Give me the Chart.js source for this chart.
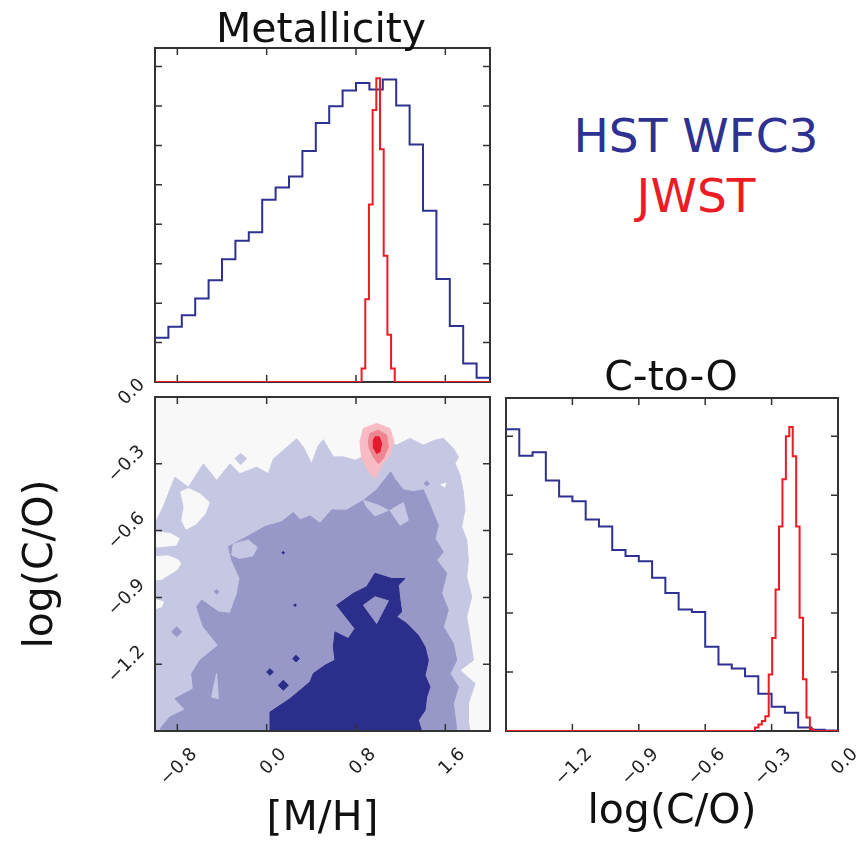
<!DOCTYPE html>
<html>
<head>
<meta charset="utf-8">
<script src="https://cdn.jsdelivr.net/npm/chart.js@4.4.1/dist/chart.umd.min.js"></script>
<style>
  body { margin: 0; width: 867px; height: 849px; position: relative; overflow: hidden; background: #fff; font-family: "DejaVu Sans", sans-serif; }
  canvas { position: absolute; }
  .lbl { position: absolute; white-space: nowrap; line-height: 1; transform: translateX(-50%); }
</style>
</head>
<body>
<canvas id="mhChart" width="500" height="390" style="left:0px;top:0px"></canvas>
<canvas id="jointChart" width="500" height="479" style="left:0px;top:370px"></canvas>
<canvas id="coChart" width="367" height="479" style="left:500px;top:370px"></canvas>
<div class="lbl" style="left:321px;top:8px;font-size:41px;color:#111">Metallicity</div>
<div class="lbl" style="left:671px;top:356px;font-size:41px;color:#111">C-to-O</div>
<div class="lbl" style="left:696px;top:112px;font-size:47px;color:#2e3192">HST WFC3</div>
<div class="lbl" style="left:696px;top:172px;font-size:47px;color:#ec1c24">JWST</div>
<script>
// ---- data ----
// marginal histograms, heights in units of the (unlabelled) y tick spacing
const mhStart = -1.0, mhStep = 0.12;
const mhHst = [1.12, 1.40, 1.69, 2.12, 2.58, 3.11, 3.58, 3.80, 4.62, 4.93, 5.21, 5.86, 6.57,
               6.99, 7.39, 7.58, 7.42, 7.67, 7.01, 6.02, 4.34, 2.61, 1.42, 0.47, 0.11];
const mhJwstStart = 0.85, mhJwstStep = 0.033;
const mhJwst = [0.34, 2.1, 4.5, 6.9, 7.7, 5.9, 3.2, 1.2, 0.34];

const coStart = -1.5, coStep = 0.06;
const coHst = [5.12, 4.67, 4.73, 4.25, 3.98, 3.90, 3.59, 3.47, 3.07, 2.97, 2.88, 2.60, 2.34,
               2.06, 2.02, 1.43, 1.13, 1.06, 0.93, 0.63, 0.41, 0.31, 0.06, 0.02, 0.01];
const coJwstStart = -0.375, coJwstStep = 0.0155;
const coJwst = [0.06, 0.11, 0.17, 0.25, 0.96, 1.58, 2.40, 3.47, 4.27, 5.00, 5.16, 4.66, 3.47,
                1.92, 0.88, 0.23, 0.03];

// tick values
const mhTicks = [-0.8, 0.0, 0.8, 1.6];
const coTicks = [0.0, -0.3, -0.6, -0.9, -1.2];
const mhCountTicks = [1, 2, 3, 4, 5, 6, 7, 8];
const coCountTicks = [1, 2, 3, 4, 5];

// joint posterior contours ([M/H], log(C/O)) – HST WFC3
const hstLevel1 = [[-1.000,-1.500],[-1.000,-0.567],[-0.925,-0.492],[-0.866,-0.417],[-0.821,-0.360],
  [-0.701,-0.405],[-0.567,-0.300],[-0.448,-0.375],[-0.328,-0.300],[-0.239,-0.345],[-0.090,-0.315],
  [0.015,-0.345],[0.060,-0.278],[0.164,-0.233],[0.269,-0.188],[0.328,-0.225],[0.403,-0.300],
  [0.463,-0.218],[0.507,-0.192],[0.597,-0.269],[0.687,-0.269],[0.791,-0.284],[0.866,-0.267],
  [0.985,-0.192],[1.164,-0.216],[1.284,-0.186],[1.403,-0.216],[1.507,-0.194],[1.582,-0.186],
  [1.672,-0.231],[1.716,-0.269],[1.687,-0.299],[1.731,-0.351],[1.761,-0.426],[1.776,-0.507],
  [1.746,-0.582],[1.791,-0.642],[1.806,-0.732],[1.791,-0.807],[1.836,-0.897],[1.791,-0.987],
  [1.821,-1.077],[1.851,-1.182],[1.731,-1.227],[1.866,-1.287],[1.806,-1.377],[1.806,-1.452],
  [1.821,-1.500]];
const hstLevel1Islands = [
  [[-0.233,-0.254],[-0.179,-0.276],[-0.233,-0.303],[-0.284,-0.276]]
];
const hstGaps = [
  [[-0.770,-0.426],[-0.701,-0.411],[-0.597,-0.435],[-0.513,-0.474],[-0.552,-0.525],[-0.633,-0.570],
   [-0.722,-0.594],[-0.761,-0.554],[-0.740,-0.495]],
  [[-1.000,-0.606],[-0.866,-0.612],[-0.782,-0.636],[-0.812,-0.666],[-1.000,-0.674]],
  [[-1.000,-0.717],[-0.881,-0.713],[-0.791,-0.732],[-0.770,-0.750],[-0.806,-0.777],[-0.881,-0.800],
   [-0.940,-0.819],[-1.000,-0.822]],
  [[-1.000,-0.909],[-0.925,-0.920],[-0.940,-0.942],[-1.000,-0.951]],
  [[1.558,-0.393],[1.606,-0.387],[1.594,-0.405]]
];
const hstLevel2 = [[-0.925,-1.500],[-0.955,-1.490],[-0.866,-1.437],[-0.731,-1.404],[-0.821,-1.355],
  [-0.657,-1.310],[-0.672,-1.242],[-0.597,-1.182],[-0.433,-1.115],[-0.567,-1.032],[-0.627,-0.942],
  [-0.582,-0.912],[-0.433,-0.965],[-0.328,-0.972],[-0.263,-0.882],[-0.239,-0.815],[-0.313,-0.732],
  [-0.343,-0.672],[-0.149,-0.620],[-0.015,-0.582],[0.134,-0.560],[0.239,-0.519],[0.299,-0.552],
  [0.388,-0.534],[0.478,-0.567],[0.582,-0.507],[0.716,-0.509],[0.866,-0.464],[0.985,-0.417],
  [1.060,-0.369],[1.110,-0.336],[1.149,-0.369],[1.224,-0.417],[1.313,-0.425],[1.403,-0.417],
  [1.463,-0.486],[1.537,-0.576],[1.507,-0.636],[1.582,-0.696],[1.522,-0.732],[1.612,-0.792],
  [1.567,-0.882],[1.627,-0.957],[1.582,-1.032],[1.672,-1.107],[1.701,-1.182],[1.642,-1.242],
  [1.716,-1.302],[1.672,-1.377],[1.701,-1.490],[1.687,-1.500]];
const hstLevel2Spots = [
  [[-0.851,-1.055],[-0.806,-1.032],[-0.761,-1.055],[-0.806,-1.077]],
  [[-0.469,-0.875],[-0.448,-0.864],[-0.427,-0.875],[-0.448,-0.885]],
  [[1.409,-0.389],[1.433,-0.378],[1.457,-0.389],[1.433,-0.399]]
];
const hstLevel2Gaps = [
  [[-0.299,-0.660],[-0.164,-0.642],[-0.084,-0.675],[-0.125,-0.714],[-0.245,-0.725],[-0.313,-0.710]],
  [[0.866,-0.464],[1.000,-0.486],[1.090,-0.509],[0.970,-0.534],[0.896,-0.494]],
  [[1.104,-0.509],[1.224,-0.474],[1.269,-0.554],[1.194,-0.576]],
  [[-0.448,-1.242],[-0.433,-1.355],[-0.493,-1.347]]
];
const hstLevel3 = [[0.030,-1.500],[0.030,-1.415],[0.209,-1.355],[0.388,-1.280],[0.418,-1.242],
  [0.522,-1.205],[0.612,-1.182],[0.597,-1.122],[0.612,-1.055],[0.731,-1.085],[0.791,-1.040],
  [0.627,-0.935],[0.776,-0.882],[0.896,-0.852],[0.970,-0.792],[1.119,-0.815],[1.239,-0.815],
  [1.179,-0.845],[1.194,-0.912],[1.209,-0.965],[1.164,-0.987],[1.254,-1.017],[1.358,-1.070],
  [1.418,-1.122],[1.448,-1.182],[1.418,-1.250],[1.463,-1.302],[1.433,-1.347],[1.418,-1.407],
  [1.358,-1.452],[1.388,-1.500]];
const hstLevel3Gaps = [
  [[0.866,-0.935],[0.970,-0.897],[1.090,-0.915],[0.985,-1.017]]
];
const hstLevel3Spots = [
  [[0.000,-1.235],[0.030,-1.220],[0.060,-1.235],[0.030,-1.250]],
  [[0.104,-1.295],[0.149,-1.272],[0.194,-1.295],[0.149,-1.317]],
  [[0.233,-1.175],[0.263,-1.160],[0.293,-1.175],[0.263,-1.190]],
  [[0.242,-0.935],[0.254,-0.929],[0.266,-0.935],[0.254,-0.941]],
  [[0.137,-0.699],[0.149,-0.693],[0.161,-0.699],[0.149,-0.705]]
];
// JWST contours
const jwstLevel1 = [[0.836,-0.201],[0.866,-0.141],[0.985,-0.119],[1.104,-0.141],[1.140,-0.201],
  [1.104,-0.261],[1.030,-0.306],[0.970,-0.366],[0.925,-0.344],[0.851,-0.276]];
const jwstLevel2 = [[0.910,-0.201],[0.925,-0.164],[1.000,-0.149],[1.075,-0.171],[1.090,-0.224],
  [1.045,-0.276],[1.000,-0.299],[0.955,-0.269],[0.919,-0.231]];
const jwstLevel3 = [[0.955,-0.194],[0.970,-0.179],[1.009,-0.179],[1.030,-0.209],[1.015,-0.246],
  [0.985,-0.254],[0.961,-0.231]];

// ---- styling ----
const navy = '#2e3192', red = '#ec1c24';
const pal = { bg: '#f8f8f8', light: '#c6c7e3', mid: '#9898c8', dark: '#2b2e8a',
              pink: '#f7bcc3', rose: '#ee8591', red: '#e31a2c' };
const fam = 'DejaVu Sans';

function fmt(v) {
  if (Math.abs(v) < 1e-9) return '0.0';
  return (v < 0 ? '\u2212' : '') + Math.abs(v).toFixed(1);
}

// histogram -> step points (left edges + closing right edge)
function steps(start, step, heights, lo, hi) {
  const pts = [];
  if (lo !== undefined) pts.push({x: lo, y: 0});
  heights.forEach((h, i) => pts.push({x: start + i * step, y: h}));
  const end = start + heights.length * step;
  if (hi !== undefined) {
    pts.push({x: end, y: 0});
    pts.push({x: hi, y: 0});
  } else {
    pts.push({x: end, y: heights[heights.length - 1]});
  }
  return pts;
}

function stepLine(pts, color) {
  return { data: pts, showLine: true, stepped: true, borderColor: color, borderWidth: 2,
           pointRadius: 0, fill: false };
}

function area(poly, color) {
  return { data: poly.concat([poly[0]]).map(p => ({x: p[0], y: p[1]})), showLine: true,
           fill: 'shape', backgroundColor: color, borderColor: color, borderWidth: 1,
           pointRadius: 0, tension: 0 };
}

// frame + inward ticks on all four sides (matplotlib look)
const frameTicks = {
  id: 'frameTicks',
  paint(chart) {
    const {ctx, chartArea: a} = chart;
    ctx.save();
    ctx.strokeStyle = '#333';
    ctx.lineWidth = 1.5;
    ctx.beginPath();
    [chart.scales.x, chart.scales.y].forEach(s => {
      s.ticks.forEach(t => {
        const p = s.getPixelForValue(t.value);
        if (s.isHorizontal()) {
          if (p < a.left + 2 || p > a.right - 2) return;
          ctx.moveTo(p, a.bottom); ctx.lineTo(p, a.bottom - 7);
          ctx.moveTo(p, a.top); ctx.lineTo(p, a.top + 7);
        } else {
          if (p < a.top + 2 || p > a.bottom - 2) return;
          ctx.moveTo(a.left, p); ctx.lineTo(a.left + 7, p);
          ctx.moveTo(a.right, p); ctx.lineTo(a.right - 7, p);
        }
      });
    });
    ctx.stroke();
    ctx.lineWidth = 2;
    ctx.strokeRect(a.left, a.top, a.width, a.height);
    ctx.restore();
  },
  beforeDatasetsDraw(chart, args, opts) {
    if (opts.bg) {
      const a = chart.chartArea;
      chart.ctx.save();
      chart.ctx.fillStyle = opts.bg;
      chart.ctx.fillRect(a.left, a.top, a.width, a.height);
      chart.ctx.restore();
    }
    if (opts.under) this.paint(chart);
  },
  afterDatasetsDraw(chart, args, opts) {
    if (!opts.under) this.paint(chart);
  }
};

function useTicks(list) {
  return s => { s.ticks = list.map(v => ({value: v})); };
}

const tickFont = { family: fam, size: 18 };
const titleFont = { family: fam, size: 41, lineHeight: 1.2 };

function baseOpts(padding, scales, pluginOpts) {
  return {
    responsive: false, animation: false, events: [],
    layout: { padding },
    plugins: { legend: { display: false }, tooltip: { enabled: false }, frameTicks: pluginOpts },
    scales
  };
}

function order(datasets) {
  datasets.forEach((d, i) => { d.order = -i; });
  return datasets;
}

// ---- top left: [M/H] marginal ----
new Chart(document.getElementById('mhChart'), {
  type: 'scatter',
  data: { datasets: order([
    stepLine(steps(mhStart, mhStep, mhHst), navy),
    stepLine(steps(mhJwstStart, mhJwstStep, mhJwst, -1.0, 2.0), red)
  ]) },
  options: baseOpts({ top: 48, right: 10, left: 0, bottom: 0 }, {
    x: { type: 'linear', min: -1.0, max: 2.0, afterBuildTicks: useTicks(mhTicks),
         afterFit: s => { s.height = 8; },
         grid: { display: false, drawTicks: false }, border: { display: false },
         ticks: { display: false } },
    y: { type: 'linear', min: 0, max: 8.47, afterBuildTicks: useTicks(mhCountTicks),
         afterFit: s => { s.width = 155; },
         grid: { display: false, drawTicks: false }, border: { display: false },
         ticks: { display: false } }
  }, { under: true }),
  plugins: [frameTicks]
});

// ---- bottom left: joint contours ----
const jointLayers = [
  [hstLevel1, pal.light],
  ...hstLevel1Islands.map(p => [p, pal.light]),
  ...hstGaps.map(p => [p, pal.bg]),
  [hstLevel2, pal.mid],
  ...hstLevel2Spots.map(p => [p, pal.mid]),
  ...hstLevel2Gaps.map(p => [p, pal.light]),
  [hstLevel3, pal.dark],
  ...hstLevel3Gaps.map(p => [p, pal.mid]),
  ...hstLevel3Spots.map(p => [p, pal.dark]),
  [jwstLevel1, pal.pink],
  [jwstLevel2, pal.rose],
  [jwstLevel3, pal.red]
];

new Chart(document.getElementById('jointChart'), {
  type: 'scatter',
  data: { datasets: order(jointLayers.map(l => area(l[0], l[1]))) },
  options: baseOpts({ top: 27, right: 10, left: 0, bottom: 0 }, {
    x: { type: 'linear', min: -1.0, max: 2.0, afterBuildTicks: useTicks(mhTicks),
         afterFit: s => { s.height = 118; },
         grid: { display: false, drawTicks: false }, border: { display: false },
         ticks: { autoSkip: false, minRotation: 45, maxRotation: 45, padding: 13, labelOffset: 17,
                  color: '#222', font: tickFont, callback: v => fmt(v) },
         title: { display: true, text: '[M/H]', color: '#111', font: titleFont,
                  padding: { top: 0, bottom: 5 } } },
    y: { type: 'linear', min: -1.5, max: 0, afterBuildTicks: useTicks(coTicks),
         afterFit: s => { s.width = 155; },
         grid: { display: false, drawTicks: false }, border: { display: false },
         ticks: { autoSkip: false, minRotation: 45, maxRotation: 45, padding: 13, labelOffset: -15,
                  color: '#222', font: tickFont, callback: v => fmt(v) },
         title: { display: true, text: 'log(C/O)', color: '#111', font: titleFont,
                  padding: { top: 17, bottom: 0 } } }
  }, { under: false, bg: pal.bg }),
  plugins: [frameTicks]
});

// ---- bottom right: log(C/O) marginal ----
new Chart(document.getElementById('coChart'), {
  type: 'scatter',
  data: { datasets: order([
    stepLine(steps(coStart, coStep, coHst), navy),
    stepLine(steps(coJwstStart, coJwstStep, coJwst, -1.5, 0.0), red)
  ]) },
  options: baseOpts({ top: 28, right: 29, left: 0, bottom: 0 }, {
    x: { type: 'linear', min: -1.5, max: 0, afterBuildTicks: useTicks(coTicks.slice().reverse()),
         afterFit: s => { s.height = 118; },
         grid: { display: false, drawTicks: false }, border: { display: false },
         ticks: { autoSkip: false, minRotation: 45, maxRotation: 45, padding: 13, labelOffset: 17,
                  color: '#222', font: tickFont, callback: v => fmt(v) },
         title: { display: true, text: 'log(C/O)', color: '#111', font: titleFont,
                  padding: { top: 0, bottom: 12 } } },
    y: { type: 'linear', min: 0, max: 5.65, afterBuildTicks: useTicks(coCountTicks),
         afterFit: s => { s.width = 6; },
         grid: { display: false, drawTicks: false }, border: { display: false },
         ticks: { display: false } }
  }, { under: true }),
  plugins: [frameTicks]
});
</script>
</body>
</html>
